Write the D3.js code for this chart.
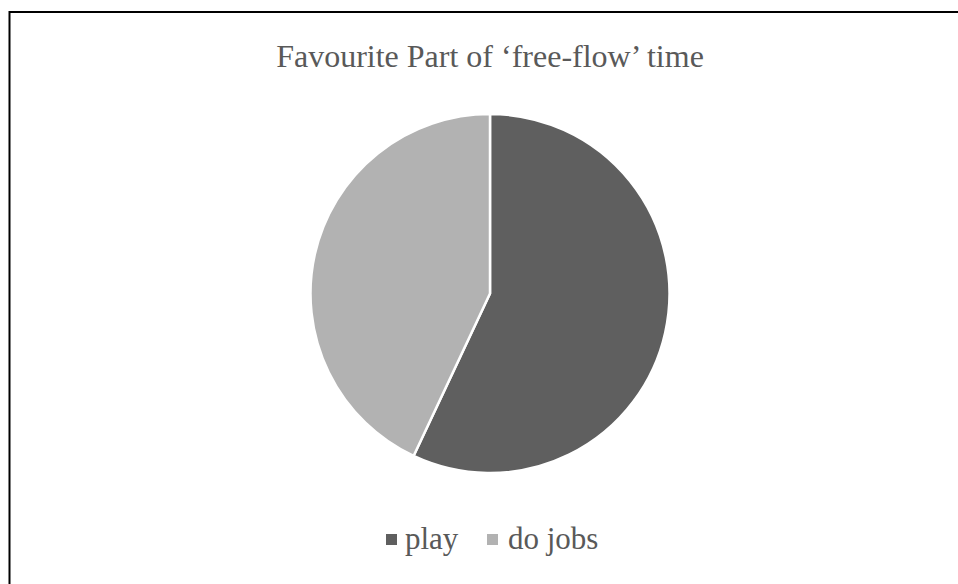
<!DOCTYPE html>
<html>
<head>
<meta charset="utf-8">
<script src="https://cdn.jsdelivr.net/npm/d3@7"></script>
<style>
  html, body { margin: 0; padding: 0; background: #fff; }
  svg { display: block; }
</style>
</head>
<body>
<svg id="chart" width="958" height="584"></svg>
<script>
const title = "Favourite Part of \u2018free-flow\u2019 time";
const categories = ["play", "do jobs"];
const values = [57, 43];
const colors = ["#5f5f5f", "#b2b2b2"];

const svg = d3.select("#chart");
const W = 958, H = 584;

// chart frame (only top & left edges visible in view)
svg.append("line").attr("x1", 9.5).attr("y1", 12).attr("x2", W).attr("y2", 12)
  .attr("stroke", "#000").attr("stroke-width", 2);
svg.append("line").attr("x1", 9.5).attr("y1", 11).attr("x2", 9.5).attr("y2", H)
  .attr("stroke", "#000").attr("stroke-width", 2);

svg.append("text")
  .attr("x", 490).attr("y", 67)
  .attr("text-anchor", "middle")
  .attr("font-family", "'Liberation Serif', 'Times New Roman', serif")
  .attr("font-size", 32)
  .attr("fill", "#595959")
  .text(title);

const cx = 490, cy = 293.5, r = 179.5;
const data = categories.map((c, i) => ({ name: c, value: values[i], color: colors[i] }));
const pie = d3.pie().value(d => d.value).sort(null);
const arc = d3.arc().innerRadius(0).outerRadius(r);

svg.append("g").attr("transform", `translate(${cx},${cy})`)
  .selectAll("path").data(pie(data)).join("path")
  .attr("d", arc)
  .attr("fill", d => d.data.color)
  .attr("stroke", "#fff")
  .attr("stroke-width", 2.5)
  .attr("stroke-linejoin", "round");

// legend
const legend = svg.append("g");
const items = [{ x: 386, tx: 405 }, { x: 487, tx: 508 }];
data.forEach((d, i) => {
  legend.append("rect").attr("x", items[i].x).attr("y", 534).attr("width", 11).attr("height", 11)
    .attr("fill", d.color);
  legend.append("text").attr("x", items[i].tx).attr("y", 549)
    .attr("font-family", "'Liberation Serif', 'Times New Roman', serif")
    .attr("font-size", 31)
    .attr("fill", "#595959")
    .text(d.name);
});
</script>
</body>
</html>
